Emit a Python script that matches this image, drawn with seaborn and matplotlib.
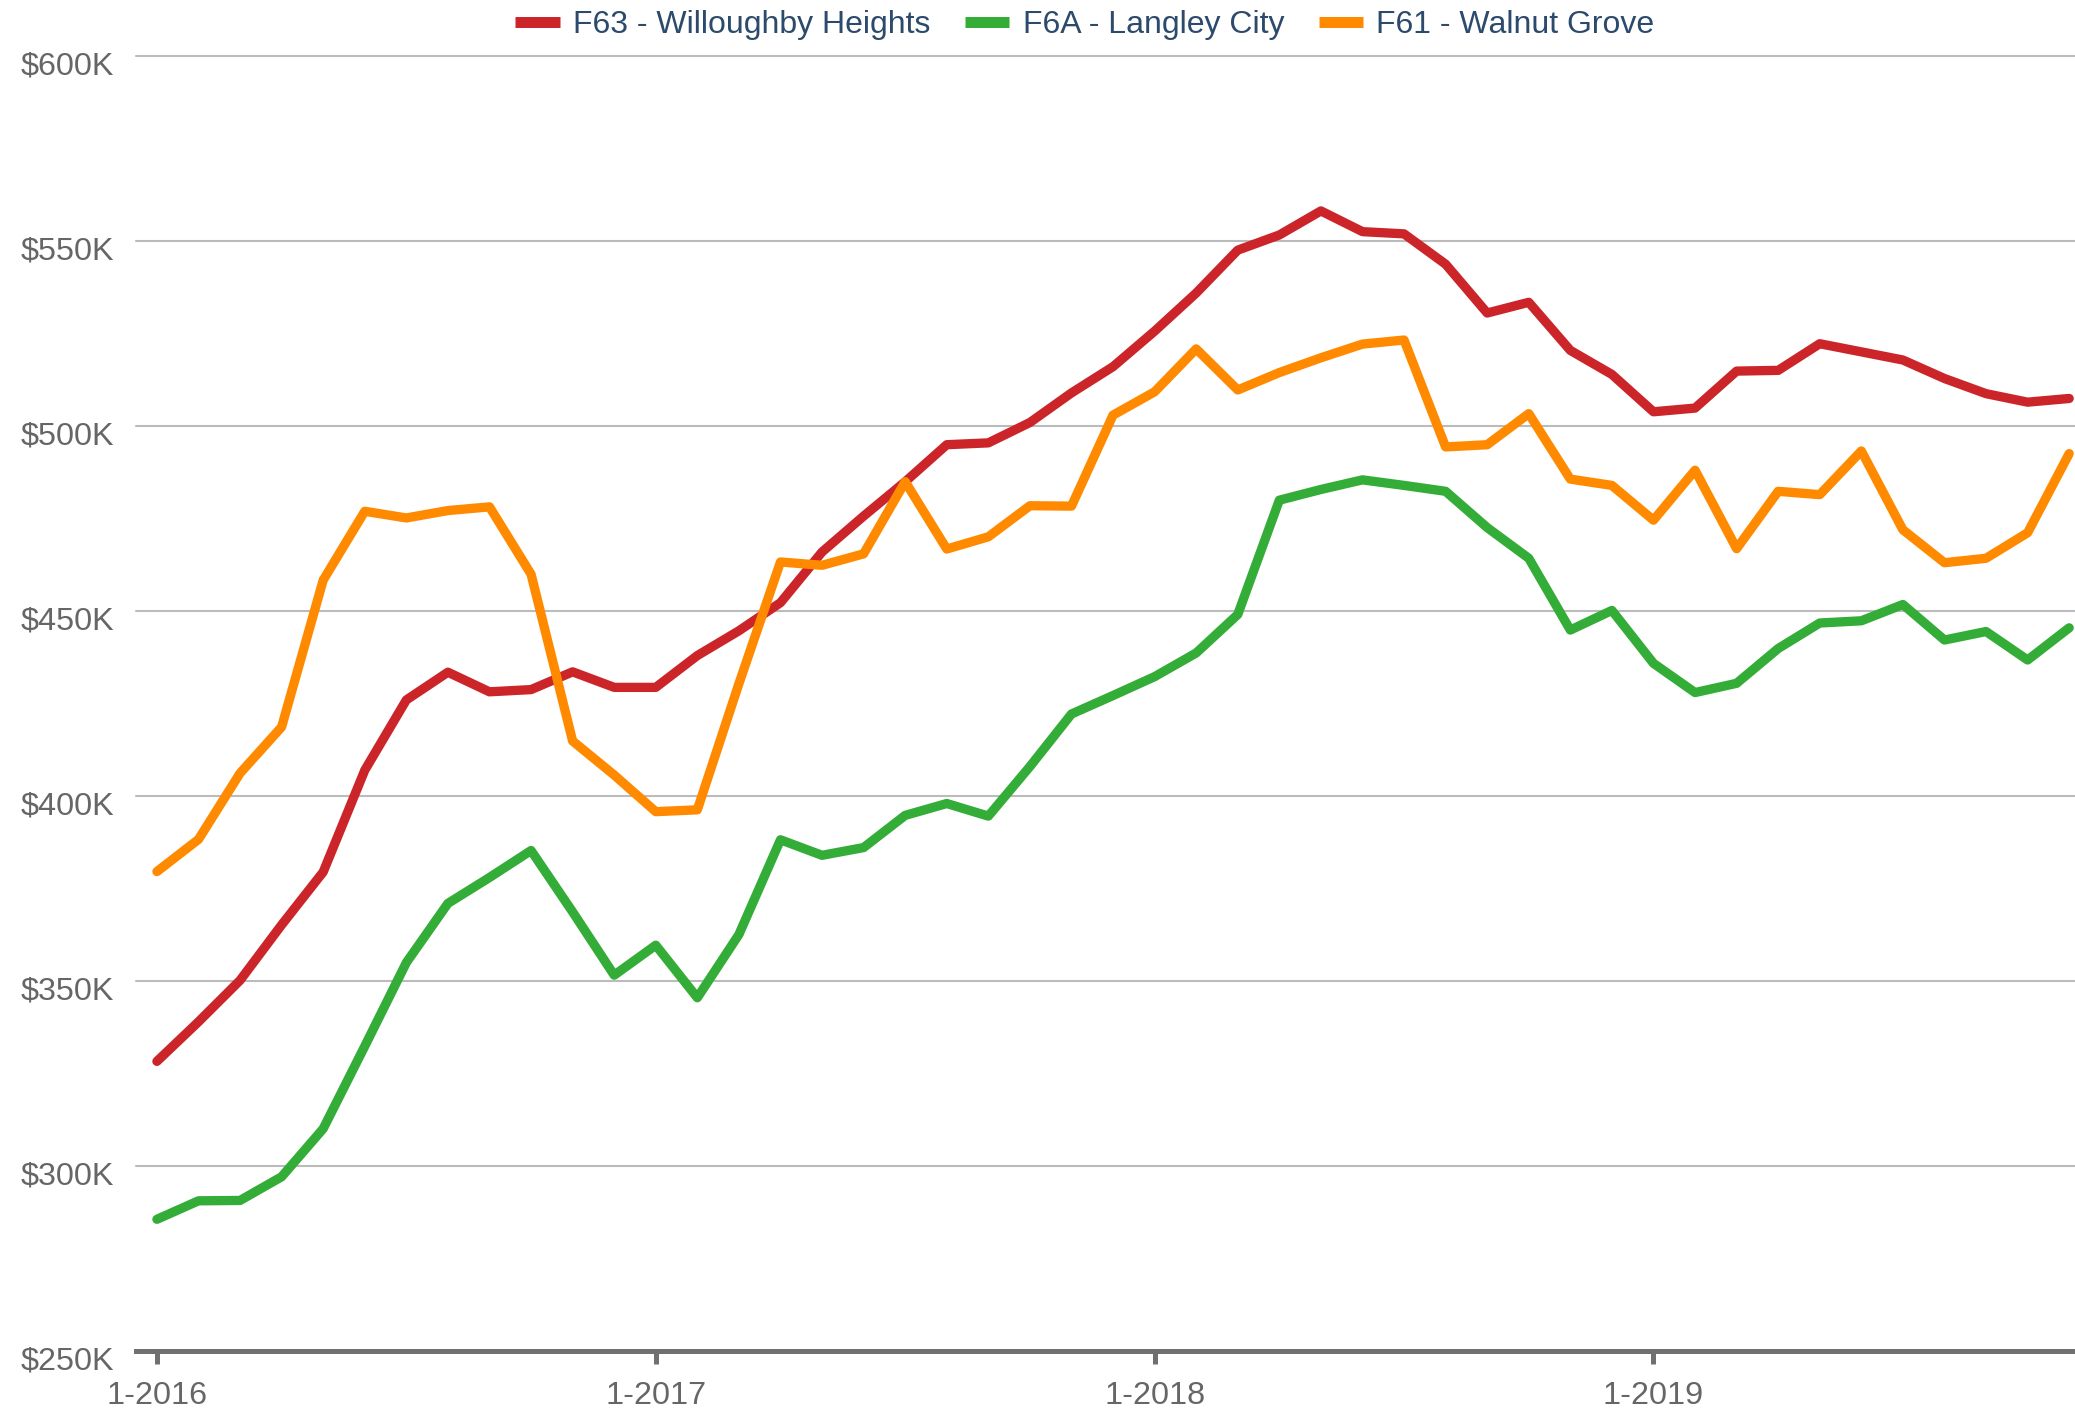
import matplotlib
matplotlib.use("Agg")
import matplotlib.pyplot as plt
from matplotlib.lines import Line2D
from matplotlib.ticker import FuncFormatter, MultipleLocator
from matplotlib.transforms import ScaledTranslation
import numpy as np
import pandas as pd
import seaborn as sns

# Monthly benchmark prices (in $K), Jan 2016 - Nov 2019
months = pd.period_range("2016-01", "2019-11", freq="M")

willoughby_heights = [
    328.3, 339.0, 350.2, 365.2, 379.5, 407.0, 426.0, 433.5, 428.2, 428.8,
    433.6, 429.4, 429.4, 438.0, 444.7, 452.3, 466.0, 475.7, 485.0, 495.0,
    495.5, 501.0, 509.0, 516.1, 525.7, 536.0, 547.6, 551.7, 558.2, 552.6,
    552.0, 543.8, 530.6, 533.5, 520.5, 514.0, 503.9, 504.9, 514.9, 515.1,
    522.3, 520.1, 517.9, 512.9, 508.8, 506.5, 507.5,
]
langley_city = [
    285.6, 290.6, 290.7, 297.1, 310.1, 332.4, 355.0, 371.0, 378.0, 385.3,
    368.7, 351.6, 359.7, 345.5, 362.6, 388.2, 384.0, 386.1, 394.8, 398.0,
    394.6, 408.0, 422.2, 427.2, 432.3, 438.7, 449.1, 480.0, 482.9, 485.5,
    484.0, 482.4, 472.6, 464.3, 444.9, 450.2, 435.9, 428.0, 430.5, 439.9,
    446.8, 447.4, 451.8, 442.2, 444.5, 436.8, 445.5,
]
walnut_grove = [
    379.6, 388.3, 406.2, 418.7, 458.4, 477.0, 475.2, 477.2, 478.2, 460.0,
    414.9, 405.7, 395.8, 396.3, 430.4, 463.3, 462.4, 465.5, 485.0, 466.8,
    470.1, 478.5, 478.4, 503.0, 509.3, 520.9, 509.8, 514.5, 518.5, 522.2,
    523.3, 494.4, 495.0, 503.4, 485.7, 484.0, 474.6, 488.1, 466.9, 482.4,
    481.5, 493.3, 472.0, 463.1, 464.3, 471.2, 492.6,
]

series_names = ["F63 - Willoughby Heights", "F6A - Langley City", "F61 - Walnut Grove"]
series_colors = ["#CC2529", "#33AD37", "#FF8A00"]
tick_months = [0, 12, 24, 36]
tick_labels = ["1-2016", "1-2017", "1-2018", "1-2019"]

frames = []
for name, vals in zip(series_names, [willoughby_heights, langley_city, walnut_grove]):
    frames.append(pd.DataFrame({
        "month": np.arange(len(months)),
        "price": np.array(vals) * 1000.0,
        "area": name,
    }))
df = pd.concat(frames, ignore_index=True)

sns.set_style("white")
plt.rcParams["font.family"] = ["Liberation Sans", "DejaVu Sans"]

W, H = 2075, 1409
fig = plt.figure(figsize=(W / 100, H / 100), dpi=100)
left_px, top_px, bottom_px = 136, 56.3, 1351
ax = fig.add_axes([left_px / W, 1 - bottom_px / H, 1 - left_px / W, (bottom_px - top_px) / H])

sns.lineplot(
    data=df, x="month", y="price", hue="area",
    hue_order=series_names, palette=series_colors,
    estimator=None, sort=False, linewidth=6.7, legend=False, ax=ax,
)
for line in ax.lines:
    line.set_solid_capstyle("round")
    line.set_solid_joinstyle("round")

ax.set_xlim(-0.503, 46.14)
ax.set_ylim(250000, 600000)
ax.yaxis.set_major_locator(MultipleLocator(50000))
ax.yaxis.set_major_formatter(FuncFormatter(lambda v, _: f"${v/1000:.0f}K"))
ax.set_xticks(tick_months)
ax.set_xticklabels(tick_labels)
ax.set_xlabel("")
ax.set_ylabel("")

ax.yaxis.grid(True, color="#BBBBBB", linewidth=1.5)
ax.xaxis.grid(False)
ax.set_axisbelow(True)
for gl in ax.get_ygridlines():
    gl.set_clip_on(False)

for side in ["top", "right", "left"]:
    ax.spines[side].set_visible(False)
ax.spines["bottom"].set_color("#707070")
ax.spines["bottom"].set_linewidth(3.6)

ax.tick_params(axis="x", bottom=True, direction="out", length=9.5, width=3.6,
               color="#707070", labelcolor="#666666", labelsize=23.3, pad=12)
ax.tick_params(axis="y", left=False, length=0, labelcolor="#666666",
               labelsize=23.3, pad=15.5)

# y labels sit slightly below their grid lines
shift = ScaledTranslation(0, -7 / 100, fig.dpi_scale_trans)
for lab in ax.get_yticklabels():
    lab.set_transform(lab.get_transform() + shift)

handles = [Line2D([0], [0], color=c, lw=7.9, solid_capstyle="butt") for c in series_colors]
fig.legend(
    handles, series_names, loc="center", bbox_to_anchor=(1085 / W, 1 - 25 / H),
    ncol=3, frameon=False, fontsize=23, handlelength=1.38, handletextpad=0.42,
    columnspacing=1.09, labelcolor="#2C4A6B",
)

fig.savefig("out.png", dpi=100, facecolor="white")
